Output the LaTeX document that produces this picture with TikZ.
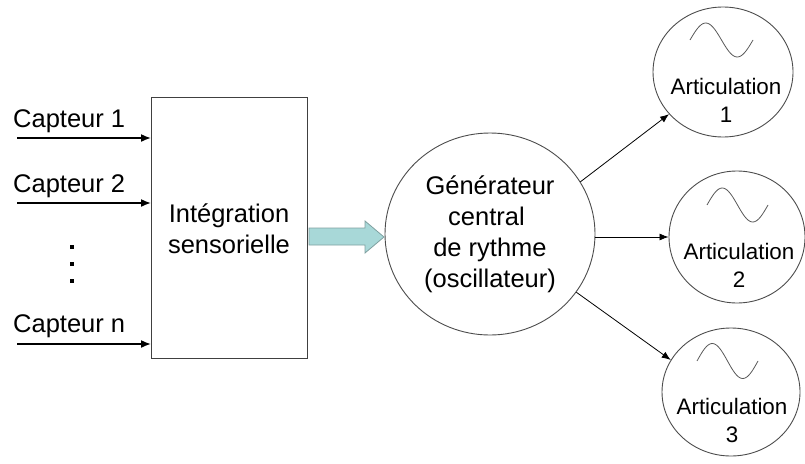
\documentclass[tikz,border=0pt]{standalone}
\usepackage{fontspec}
\setmainfont{Liberation Sans}
\usetikzlibrary{shapes.geometric,arrows.meta}
\definecolor{flowfill}{HTML}{A8D8D8}
\definecolor{flowedge}{HTML}{7FA0A0}
\begin{document}
\begin{tikzpicture}[x=1pt,y=-1pt,
  lbl/.style={font=\fontsize{25.5}{31}\selectfont, inner sep=0pt},
  arttxt/.style={font=\fontsize{22.4}{27.5}\selectfont, align=center, inner sep=0pt},
  ring/.style={draw=black!70, line width=0.9pt, ellipse, inner sep=0pt},
  inarrow/.style={-{Latex[length=10pt,width=8pt]}, line width=1.6pt},
  outarrow/.style={-{Latex[length=9pt,width=7pt]}, line width=0.8pt},
  wave/.style={draw=black!65, line width=0.8pt},
  dotmark/.style={fill=black, minimum size=4pt, inner sep=0pt}]
\useasboundingbox (0,0) rectangle (805,463);

% sensor box
\node[draw=black!75, line width=0.9pt, minimum width=156pt, minimum height=261pt, inner sep=0pt, anchor=north west] (box) at (151,97) {};
\node[lbl, align=center, anchor=base] (integ) at (229,253) {Intégration\\sensorielle};

% sensors
\node[lbl, anchor=base west] (c1) at (13,127) {Capteur 1};
\node[lbl, anchor=base west] (c2) at (13,192) {Capteur 2};
\node[lbl, anchor=base west] (cn) at (13,332) {Capteur n};
\coordinate (s1) at (17,138);
\coordinate (s2) at (17,203);
\coordinate (sn) at (17,344);
\draw[inarrow] (s1) -- (s1 -| box.west);
\draw[inarrow] (s2) -- (s2 -| box.west);
\draw[inarrow] (sn) -- (sn -| box.west);
\node[dotmark] (d1) at (72,247) {};
\node[dotmark] (d2) at (72,264) {};
\node[dotmark] (d3) at (72,281) {};

% central pattern generator
\node[ring, minimum width=210pt, minimum height=202pt, lbl, align=center] (cpg) at (490,234)
  {Générateur\\central\hbox{\ }\\de rythme\\(oscillateur)};

% big flow arrow
\draw[draw=flowedge, fill=flowfill, line width=0.8pt]
  (309,228) -- (365,228) -- (365,221) -- (384,237) -- (365,253) -- (365,245) -- (309,245) -- cycle;

% articulations
\node[ring, minimum width=140pt, minimum height=130pt] (a1) at (723,72) {};
\node[ring, minimum width=136pt, minimum height=132pt] (a2) at (737,237) {};
\node[ring, minimum width=138pt, minimum height=128pt] (a3) at (731,392) {};
\node[arttxt, anchor=base] (t1) at (726,122) {Articulation\\1};
\node[arttxt, anchor=base] (t2) at (739,287) {Articulation\\2};
\node[arttxt, anchor=base] (t3) at (732,442) {Articulation\\3};
\draw[wave] plot[domain=0:360, samples=41, smooth] ({690+\x/360*63}, {40-17*sin(\x)});
\draw[wave] plot[domain=0:360, samples=41, smooth] ({707+\x/360*61}, {205-17*sin(\x)});
\draw[wave] plot[domain=0:360, samples=41, smooth] ({697+\x/360*61}, {361-17.5*sin(\x)});

% connectors
\draw[outarrow] (cpg.30) -- (a1.218);
\draw[outarrow] (a2.west -| cpg.east) -- (a2.west);
\draw[outarrow] (cpg.326) -- (a3.152);
\end{tikzpicture}
\end{document}
